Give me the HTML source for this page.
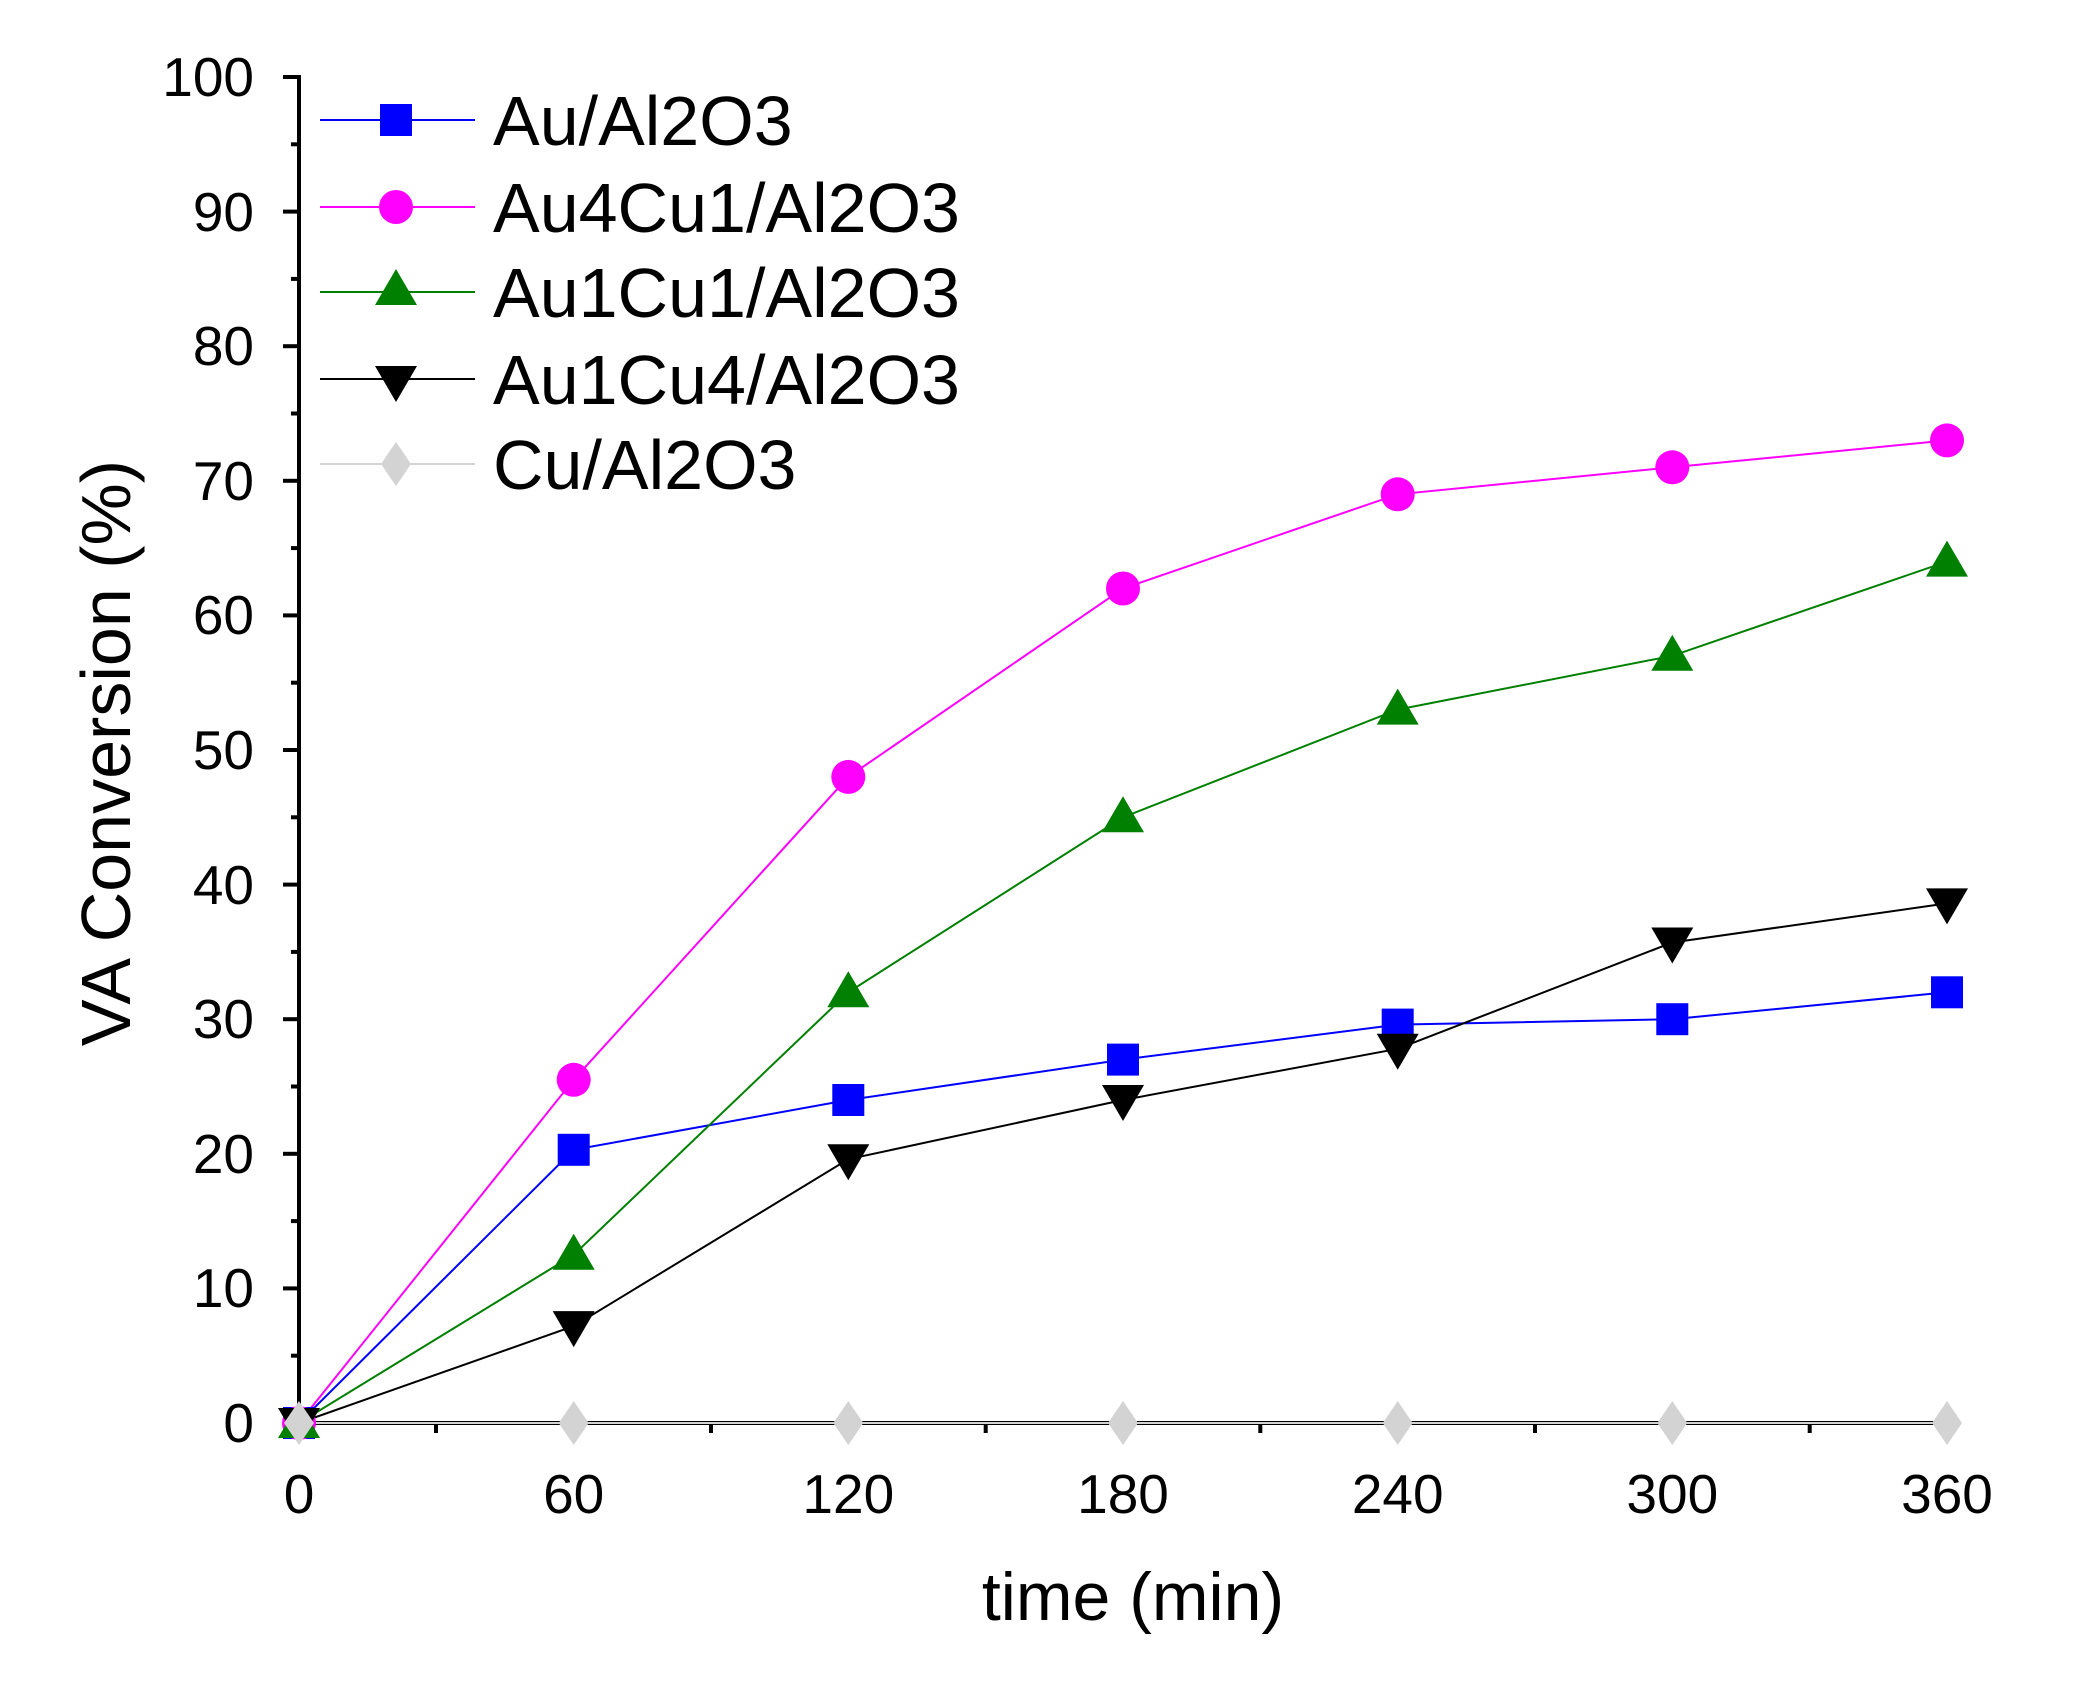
<!DOCTYPE html>
<html><head><style>html,body{margin:0;padding:0;background:#fff}svg{display:block}</style></head><body>
<svg width="2090" height="1702" viewBox="0 0 2090 1702" xmlns="http://www.w3.org/2000/svg" font-family="Liberation Sans, Arial, sans-serif">
<defs>
<g id="sq"><rect x="-16" y="-16" width="32" height="32"/></g>
<g id="ci"><circle r="17"/></g>
<g id="tu"><polygon points="0,-21 21,15 -21,15"/></g>
<g id="td"><polygon points="0,21 21,-15 -21,-15"/></g>
<g id="di"><polygon points="0,-22 15,0 0,22 -15,0"/></g>
</defs>
<g stroke="#000" stroke-width="4" fill="none">
<line x1="299" y1="75" x2="299" y2="1425"/>
<line x1="297" y1="1423" x2="1949" y2="1423"/>
</g>
<g stroke="#000" stroke-width="4">
<line x1="283" y1="77" x2="299" y2="77"/><line x1="283" y1="211.6" x2="299" y2="211.6"/><line x1="283" y1="346.2" x2="299" y2="346.2"/><line x1="283" y1="480.8" x2="299" y2="480.8"/><line x1="283" y1="615.4" x2="299" y2="615.4"/><line x1="283" y1="750" x2="299" y2="750"/><line x1="283" y1="884.6" x2="299" y2="884.6"/><line x1="283" y1="1019.2" x2="299" y2="1019.2"/><line x1="283" y1="1153.8" x2="299" y2="1153.8"/><line x1="283" y1="1288.4" x2="299" y2="1288.4"/><line x1="283" y1="1423" x2="299" y2="1423"/>
<line x1="291" y1="144.3" x2="299" y2="144.3"/><line x1="291" y1="278.9" x2="299" y2="278.9"/><line x1="291" y1="413.5" x2="299" y2="413.5"/><line x1="291" y1="548.1" x2="299" y2="548.1"/><line x1="291" y1="682.7" x2="299" y2="682.7"/><line x1="291" y1="817.3" x2="299" y2="817.3"/><line x1="291" y1="951.9" x2="299" y2="951.9"/><line x1="291" y1="1086.5" x2="299" y2="1086.5"/><line x1="291" y1="1221.1" x2="299" y2="1221.1"/><line x1="291" y1="1355.7" x2="299" y2="1355.7"/>
<line x1="299" y1="1423" x2="299" y2="1439"/><line x1="573.7" y1="1423" x2="573.7" y2="1439"/><line x1="848.3" y1="1423" x2="848.3" y2="1439"/><line x1="1123" y1="1423" x2="1123" y2="1439"/><line x1="1397.7" y1="1423" x2="1397.7" y2="1439"/><line x1="1672.3" y1="1423" x2="1672.3" y2="1439"/><line x1="1947" y1="1423" x2="1947" y2="1439"/>
<line x1="436" y1="1423" x2="436" y2="1433"/><line x1="711" y1="1423" x2="711" y2="1433"/><line x1="985.7" y1="1423" x2="985.7" y2="1433"/><line x1="1260.3" y1="1423" x2="1260.3" y2="1433"/><line x1="1535" y1="1423" x2="1535" y2="1433"/><line x1="1809.7" y1="1423" x2="1809.7" y2="1433"/>
</g>
<g font-size="55" text-anchor="end" fill="#000">
<text x="254" y="96">100</text><text x="254" y="231">90</text><text x="254" y="365">80</text><text x="254" y="500">70</text><text x="254" y="634">60</text><text x="254" y="769">50</text><text x="254" y="904">40</text><text x="254" y="1038">30</text><text x="254" y="1173">20</text><text x="254" y="1307">10</text><text x="254" y="1442">0</text>
</g>
<g font-size="55" text-anchor="middle" fill="#000">
<text x="299" y="1513">0</text><text x="573.7" y="1513">60</text><text x="848.3" y="1513">120</text><text x="1123" y="1513">180</text><text x="1397.7" y="1513">240</text><text x="1672.3" y="1513">300</text><text x="1947" y="1513">360</text>
</g>
<text x="1133" y="1620" font-size="68" text-anchor="middle">time (min)</text>
<text transform="translate(130,753) rotate(-90)" font-size="70" text-anchor="middle">VA Conversion (%)</text>
<polyline fill="none" stroke="#d3d3d3" stroke-width="2" points="299,1423 1947,1423"/>
<polyline fill="none" stroke="#0000ff" stroke-width="2" points="299,1423 573.7,1149.8 848.3,1100 1123,1059.6 1397.7,1024.6 1672.3,1019.2 1947,992.3"/>
<polyline fill="none" stroke="#ff00ff" stroke-width="2" points="299,1423 573.7,1079.8 848.3,776.9 1123,588.5 1397.7,494.3 1672.3,467.3 1947,440.4"/>
<polyline fill="none" stroke="#008000" stroke-width="2" points="299,1423 573.7,1254.8 848.3,992.3 1123,817.3 1397.7,709.6 1672.3,655.8 1947,561.6"/>
<polyline fill="none" stroke="#000" stroke-width="2" points="299,1423 573.7,1326.1 848.3,1159.2 1123,1100 1397.7,1048.8 1672.3,942.5 1947,903.4"/>
<g fill="#0000ff"><use href="#sq" x="299" y="1423"/><use href="#sq" x="573.7" y="1149.8"/><use href="#sq" x="848.3" y="1100"/><use href="#sq" x="1123" y="1059.6"/><use href="#sq" x="1397.7" y="1024.6"/><use href="#sq" x="1672.3" y="1019.2"/><use href="#sq" x="1947" y="992.3"/></g>
<g fill="#ff00ff"><use href="#ci" x="299" y="1423"/><use href="#ci" x="573.7" y="1079.8"/><use href="#ci" x="848.3" y="776.9"/><use href="#ci" x="1123" y="588.5"/><use href="#ci" x="1397.7" y="494.3"/><use href="#ci" x="1672.3" y="467.3"/><use href="#ci" x="1947" y="440.4"/></g>
<g fill="#008000"><use href="#tu" x="299" y="1423"/><use href="#tu" x="573.7" y="1254.8"/><use href="#tu" x="848.3" y="992.3"/><use href="#tu" x="1123" y="817.3"/><use href="#tu" x="1397.7" y="709.6"/><use href="#tu" x="1672.3" y="655.8"/><use href="#tu" x="1947" y="561.6"/></g>
<g fill="#000"><use href="#td" x="299" y="1423"/><use href="#td" x="573.7" y="1326.1"/><use href="#td" x="848.3" y="1159.2"/><use href="#td" x="1123" y="1100"/><use href="#td" x="1397.7" y="1048.8"/><use href="#td" x="1672.3" y="942.5"/><use href="#td" x="1947" y="903.4"/></g>
<g fill="#d3d3d3"><use href="#di" x="299" y="1423"/><use href="#di" x="573.7" y="1423"/><use href="#di" x="848.3" y="1423"/><use href="#di" x="1123" y="1423"/><use href="#di" x="1397.7" y="1423"/><use href="#di" x="1672.3" y="1423"/><use href="#di" x="1947" y="1423"/></g>
<g stroke-width="2">
<line x1="320" y1="120" x2="475" y2="120" stroke="#0000ff"/>
<line x1="320" y1="207" x2="475" y2="207" stroke="#ff00ff"/>
<line x1="320" y1="292" x2="475" y2="292" stroke="#008000"/>
<line x1="320" y1="379" x2="475" y2="379" stroke="#000"/>
<line x1="320" y1="464" x2="475" y2="464" stroke="#d3d3d3"/>
</g>
<use href="#sq" x="396" y="120" fill="#0000ff"/>
<use href="#ci" x="396" y="207" fill="#ff00ff"/>
<use href="#tu" x="396" y="290" fill="#008000"/>
<use href="#td" x="396" y="381" fill="#000"/>
<use href="#di" x="396" y="464" fill="#d3d3d3"/>
<g font-size="70" fill="#000">
<text x="493" y="145">Au/Al2O3</text>
<text x="493" y="232">Au4Cu1/Al2O3</text>
<text x="493" y="317">Au1Cu1/Al2O3</text>
<text x="493" y="404">Au1Cu4/Al2O3</text>
<text x="493" y="489">Cu/Al2O3</text>
</g>
</svg>
</body></html>
